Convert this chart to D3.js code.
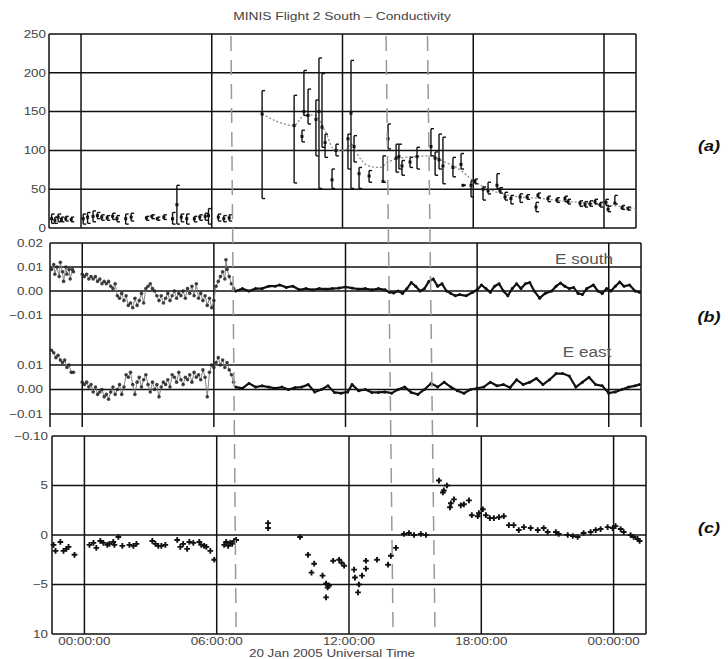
<!DOCTYPE html>
<html>
<head>
<meta charset="utf-8">
<script src="https://cdn.jsdelivr.net/npm/d3@7"></script>
<style>
  body { margin: 0; background: #fff; }
  text { font-family: "Liberation Sans", Arial, sans-serif; }
</style>
</head>
<body>
<svg width="728" height="659"></svg>
<script>
// hours since 00:00 UT, 20 Jan 2005
var timeTicks = [0, 6, 12, 18, 24];
var timeTickLabels = ["00:00:00", "06:00:00", "12:00:00", "18:00:00", "00:00:00"];
var eventTimes = [6.88, 14.0, 15.9];

// (a) conductivity: [t, value, low, high]
var condTicks = [0, 50, 100, 150, 200, 250];
var condPoints = [
  [-1.35,12,6,18],[-1.2,10,6,14],[-1.05,14,8,18],[-0.9,11,8,14],[-0.7,12,9,15],[-0.45,11,8,14],
  [0.1,12,5,18],[0.3,14,6,20],[0.55,15,8,22],[0.75,16,12,20],[0.95,14,10,17],[1.2,13,10,16],
  [1.45,15,11,19],[1.65,12,8,16],[2.05,12,5,18],[2.3,14,9,19],
  [3.0,13,10,15],[3.25,15,12,17],[3.5,12,10,14],[3.8,14,11,17],
  [4.2,12,5,20],[4.4,30,5,55],[4.6,14,8,18],[4.85,12,5,18],
  [5.2,12,8,15],[5.45,14,10,17],[5.7,15,10,19],[5.85,16,5,25],
  [6.3,14,9,18],[6.55,12,8,16],[6.8,13,9,17],
  [8.31,147,38,177],[9.78,132,58,171],[10.14,118,111,126],[10.23,150,145,203],
  [10.42,145,134,179],[10.78,140,93,165],[10.92,150,51,219],[11.06,130,104,199],
  [11.2,110,91,121],[11.52,62,51,76],[11.7,100,93,108],[12.25,115,76,121],
  [12.39,148,51,216],[12.53,105,85,119],[12.76,70,51,78],[13.22,67,59,74],
  [13.86,60,59,93],[14.09,115,102,134],[14.46,90,72,108],[14.59,92,76,108],
  [14.73,80,68,87],[15.1,85,78,91],[15.42,92,76,104],[16.06,105,93,128],
  [16.25,90,68,98],[16.43,88,76,121],[16.61,80,57,117],[17.07,78,66,91],
  [17.44,82,76,96],[17.53,55,55,55],[17.9,55,40,61],[18.08,60,57,63],
  [18.45,50,36,53],[18.68,48,44,59],[19.09,55,51,70],[19.23,48,45,52],
  [19.46,40,36,46],[19.73,38,31,42],[20.15,40,33,44],[20.47,40,37,43],
  [20.88,27,21,33],[20.97,42,39,45],[21.43,38,34,41],[21.84,36,33,39],
  [22.21,38,34,41],[22.35,34,31,37],[22.9,32,28,35],[23.13,30,27,34],
  [23.36,31,28,35],[23.59,34,31,37],[23.82,30,27,33],[24.09,33,29,37],
  [24.19,24,21,28],[24.5,32,31,42],[24.83,26,24,29],[25.1,25,23,27]
];
var condFit = [
  [8.31,147],[9.78,132],[10.05,140],[10.23,146],[10.74,145],[11.2,125],[11.66,100],
  [12.1,100],[12.4,108],[12.8,90],[13.2,80],[13.7,78],[14.1,85],[14.6,90],[15.3,92],
  [16.0,93],[16.7,85],[17.4,75],[17.95,62],[18.55,52],[19.2,45],[20.15,40],[21.1,38],
  [22.0,35],[22.9,33],[23.8,30],[24.7,28],[25.45,25]
];

// (b) electric field, E south and E east: [t, value]
var eSouthTicks = [-0.01, 0, 0.01, 0.02];
var eSouthTickLabels = ["\u22120.01", "0.00", "0.01", "0.02"];
var eEastTicks = [-0.01, 0, 0.01];
var eEastTickLabels = ["\u22120.01", "0.00", "0.01"];
var eSouthScatter = [
  [-1.4,0.009],[-1.3,0.011],[-1.25,0.007],[-1.15,0.010],[-1.05,0.006],[-1.0,0.012],[-0.9,0.008],
  [-0.85,0.004],[-0.75,0.010],[-0.7,0.007],[-0.6,0.009],[-0.55,0.005],[-0.45,0.009],[-0.4,0.008],
  [0.0,0.007],[0.1,0.006],[0.2,0.007],[0.3,0.005],[0.4,0.006],[0.5,0.005],[0.6,0.006],[0.7,0.004],
  [0.8,0.005],[0.9,0.003],[1.0,0.004],[1.1,0.003],[1.2,0.004],[1.3,0.002],[1.4,0.001],[1.5,0.003],
  [1.6,-0.002],[1.7,-0.003],[1.8,-0.001],[1.9,-0.004],[2.0,-0.002],[2.1,-0.006],[2.2,-0.005],
  [2.3,-0.007],[2.4,-0.003],[2.5,-0.006],[2.6,-0.004],[2.7,-0.001],[2.8,-0.005],[2.9,0.001],
  [3.0,0.002],[3.1,0.003],[3.2,0.001],[3.3,0.000],[3.4,-0.002],[3.5,-0.004],[3.6,-0.002],
  [3.7,-0.005],[3.8,-0.003],[3.9,-0.001],[4.0,-0.004],[4.1,-0.002],[4.2,0.000],[4.3,-0.003],
  [4.4,-0.001],[4.5,-0.002],[4.6,0.000],[4.7,-0.003],[4.8,0.001],[4.9,-0.001],[5.0,0.002],
  [5.1,-0.002],[5.2,0.003],[5.3,-0.003],[5.4,-0.001],[5.5,-0.004],[5.6,-0.002],[5.7,-0.006],
  [5.8,-0.003],[5.9,-0.007],[6.0,-0.004],[6.1,0.002],[6.2,0.004],[6.3,0.006],[6.4,0.008],
  [6.5,0.005],[6.55,0.013],[6.6,0.009],[6.7,0.006],[6.8,0.003],[6.9,0.001]
];
var eSouthTrace = [
  [7.0,0.000],[7.3,0.001],[7.6,0.000],[7.9,0.001],[8.2,0.001],[8.5,0.002],[8.8,0.002],[9.0,0.0025],
  [9.3,0.0015],[9.6,0.002],[9.9,0.0005],[10.2,0.001],[10.5,0.0005],[10.8,0.001],[11.1,0.0008],
  [11.4,0.001],[11.7,0.0012],[12.0,0.0017],[12.3,0.0012],[12.6,0.0008],[12.9,0.001],[13.2,0.0005],
  [13.5,0.001],[13.8,0.0005],[14.0,-0.0005],[14.2,-0.0008],[14.4,0.000],[14.6,-0.001],[14.8,0.001],
  [15.0,0.0035],[15.2,0.002],[15.4,0.000],[15.6,0.001],[15.8,0.004],[16.0,0.005],[16.2,0.002],
  [16.4,0.003],[16.6,0.000],[16.8,-0.001],[17.0,-0.002],[17.2,-0.0015],[17.5,-0.002],[17.8,-0.0005],
  [18.0,0.0005],[18.2,0.0025],[18.4,0.001],[18.6,-0.0005],[18.8,0.002],[19.0,0.003],[19.2,0.000],
  [19.4,-0.002],[19.6,0.001],[19.8,0.003],[20.0,0.001],[20.2,0.003],[20.4,0.0035],[20.6,0.000],
  [20.85,-0.003],[21.1,-0.001],[21.4,0.000],[21.6,0.002],[21.8,0.0033],[22.0,0.002],[22.2,0.001],
  [22.4,0.0015],[22.6,-0.001],[22.8,-0.0015],[23.0,0.001],[23.3,0.0025],[23.5,0.000],[23.7,-0.001],
  [23.9,0.001],[24.1,0.000],[24.3,0.002],[24.5,0.0037],[24.7,0.002],[24.95,0.0025],[25.2,0.000],
  [25.4,-0.0005]
];
var eEastScatter = [
  [-1.4,0.016],[-1.3,0.015],[-1.2,0.013],[-1.1,0.014],[-1.0,0.012],[-0.9,0.011],[-0.8,0.012],
  [-0.7,0.009],[-0.6,0.010],[-0.5,0.007],[-0.4,0.007],
  [0.0,0.003],[0.1,0.002],[0.2,0.003],[0.3,0.001],[0.4,0.002],[0.5,-0.001],[0.6,0.001],[0.7,-0.002],
  [0.8,-0.001],[0.9,0.000],[1.0,-0.003],[1.1,-0.002],[1.2,-0.004],[1.3,-0.001],[1.4,0.001],
  [1.5,-0.002],[1.6,0.000],[1.7,0.002],[1.8,-0.002],[1.9,0.001],[2.0,0.006],[2.1,0.005],[2.2,0.007],
  [2.3,0.002],[2.4,-0.002],[2.5,0.003],[2.6,0.005],[2.7,0.001],[2.8,0.004],[2.9,0.006],[3.0,0.002],
  [3.1,-0.001],[3.2,0.003],[3.3,0.000],[3.4,0.002],[3.5,-0.003],[3.6,0.001],[3.7,0.003],[3.8,0.002],
  [3.9,0.004],[4.0,0.001],[4.1,0.006],[4.2,0.005],[4.3,0.003],[4.4,0.007],[4.5,0.004],[4.6,0.002],
  [4.7,0.005],[4.8,0.004],[4.9,0.006],[5.0,0.003],[5.1,0.007],[5.2,0.005],[5.3,0.006],[5.4,0.004],
  [5.5,0.008],[5.6,0.005],[5.7,-0.003],[5.8,0.007],[5.9,0.010],[6.0,0.009],[6.1,0.011],[6.2,0.013],
  [6.3,0.010],[6.4,0.012],[6.5,0.009],[6.6,0.011],[6.7,0.008],[6.8,0.006],[6.9,0.003]
];
var eEastTrace = [
  [7.0,0.001],[7.3,0.0005],[7.6,0.0025],[7.9,0.001],[8.2,0.0015],[8.5,0.001],[8.8,0.0005],
  [9.1,0.001],[9.4,0.000],[9.7,0.0008],[10.0,0.001],[10.3,0.002],[10.6,-0.001],[10.9,0.000],
  [11.2,0.0015],[11.5,-0.0012],[11.8,-0.0015],[12.1,-0.001],[12.3,0.002],[12.6,-0.0005],[12.9,0.000],
  [13.2,-0.0012],[13.5,-0.0012],[13.8,-0.001],[14.1,-0.0015],[14.4,0.000],[14.7,0.001],[15.0,-0.0012],
  [15.3,-0.002],[15.6,0.000],[15.9,0.0025],[16.2,0.001],[16.5,0.003],[16.8,0.001],[17.1,-0.0005],
  [17.4,-0.0015],[17.7,0.000],[18.0,0.0005],[18.3,0.001],[18.6,0.003],[18.9,0.0015],[19.2,0.002],
  [19.5,0.0008],[19.8,0.004],[20.1,0.002],[20.4,0.003],[20.7,0.0045],[21.0,0.002],[21.3,0.004],
  [21.6,0.0065],[21.9,0.0065],[22.2,0.0055],[22.5,0.001],[22.8,0.003],[23.1,0.005],[23.4,0.002],
  [23.7,0.0015],[24.0,-0.0015],[24.3,-0.001],[24.6,0.000],[24.9,0.001],[25.2,0.0015],[25.4,0.002]
];

// (c) [t, value]
var cTicks = [10, 5, 0, -5, -10];
var cTickLabels = ["\u22120.10", "5", "0", "\u22125", "10"];
var cPoints = [
  [-1.4,-1.0],[-1.31,-1.6],[-1.09,-0.7],[-0.95,-1.6],[-0.82,-1.4],[-0.72,-1.2],[-0.45,-2.0],
  [0.23,-1.0],[0.41,-0.8],[0.54,-1.3],[0.72,-0.6],[0.86,-0.8],[1.04,-1.0],[1.13,-0.9],[1.31,-0.7],
  [1.36,-1.0],[1.54,-0.2],[1.72,-1.1],[2.04,-1.0],[2.22,-1.1],[2.36,-0.9],
  [3.08,-0.6],[3.22,-0.9],[3.35,-1.1],[3.49,-1.1],[3.67,-1.0],
  [4.21,-0.5],[4.35,-1.2],[4.48,-0.9],[4.66,-1.4],[4.76,-0.7],[4.94,-0.8],
  [5.21,-0.7],[5.3,-1.0],[5.43,-1.1],[5.53,-1.2],[5.71,-1.6],[5.89,-2.5],
  [6.34,-1.0],[6.43,-0.7],[6.52,-1.1],[6.61,-0.8],[6.7,-0.9],[6.79,-0.6],[6.88,-0.5],
  [8.33,1.2],[8.33,0.7],[9.78,-0.2],[10.14,-2.0],[10.3,-3.8],[10.42,-2.9],[10.8,-4.1],
  [10.96,-4.9],[11.03,-5.3],[10.96,-6.3],[11.1,-5.1],[11.28,-2.6],[11.55,-2.5],[11.66,-2.8],
  [11.78,-3.1],[12.23,-3.5],[12.27,-4.3],[12.41,-5.8],[12.45,-5.0],[12.59,-4.1],[12.77,-3.4],
  [12.77,-2.6],[13.27,-2.5],[13.77,-3.0],[13.9,-2.1],[14.13,-1.3],[14.49,0.1],[14.72,0.2],
  [14.95,0.0],[15.26,0.1],[15.49,0.0],
  [16.08,5.5],[16.26,4.3],[16.3,4.5],[16.44,5.0],[16.58,2.8],[16.62,3.2],[16.76,3.6],[17.07,3.0],
  [17.21,3.1],[17.44,3.5],[17.57,2.0],[17.84,1.9],[17.89,2.2],[18.07,2.6],[18.21,2.0],[18.39,1.7],
  [18.57,1.7],[18.8,1.8],[19.02,1.9],[19.25,1.0],[19.47,1.0],[19.7,0.5],[19.93,0.8],[20.24,0.7],
  [20.56,0.5],[20.83,0.7],[21.01,0.3],[21.38,0.3],[21.51,0.1],[21.92,0.0],[22.15,-0.1],[22.37,-0.2],
  [22.64,0.2],[22.96,0.3],[23.19,0.5],[23.41,0.6],[23.73,0.8],[23.96,0.7],[24.09,0.9],[24.32,0.6],
  [24.46,0.3],[24.77,0.0],[24.91,-0.2],[25.09,-0.4],[25.18,-0.6]
];

var svg = d3.select("svg");
var gridColor = "#111", labelColor = "#444";
var tDomain = [-1.47, 25.47];

// each panel of the scan sits slightly skewed, so each has its own x range
var xA = d3.scaleLinear().domain(tDomain).range([49, 636]);
var xB = d3.scaleLinear().domain(tDomain).range([50, 641]);
var xC = d3.scaleLinear().domain(tDomain).range([52, 646]);

var yA = d3.scaleLinear().domain([0, 250]).range([228, 34]);
var yS = d3.scaleLinear().domain([-0.01, 0.02]).range([315, 243]);
var yE = d3.scaleLinear().domain([-0.01, 0.01]).range([414, 365]);
var yC = d3.scaleLinear().domain([-10, 10]).range([634, 436]);

function stretchText(g, x, y, str, size, anchor, fill) {
    return g.append("text")
        .attr("transform", "translate(" + x + "," + y + ") scale(1.22,1)")
        .attr("text-anchor", anchor)
        .attr("dy", "0.35em")
        .attr("font-size", size)
        .attr("fill", fill)
        .text(str);
}

function hLines(g, x, y, vals) {
    g.selectAll(null).data(vals).enter().append("line")
        .attr("x1", x.range()[0]).attr("x2", x.range()[1])
        .attr("y1", function(d) { return y(d); })
        .attr("y2", function(d) { return y(d); })
        .attr("stroke", gridColor).attr("stroke-width", 1.5);
}

function vLines(g, x, vals, top, bottom) {
    g.selectAll(null).data(vals).enter().append("line")
        .attr("x1", function(d) { return x(d); })
        .attr("x2", function(d) { return x(d); })
        .attr("y1", top).attr("y2", bottom)
        .attr("stroke", gridColor).attr("stroke-width", 1.5);
}

// ---- (a) conductivity
var gA = svg.append("g");
hLines(gA, xA, yA, condTicks);
vLines(gA, xA, tDomain.concat(timeTicks), yA(250), yA(0));
condTicks.forEach(function(d) {
    stretchText(gA, 46, yA(d), d, 11, "end", labelColor);
});

gA.append("path")
    .datum(condFit)
    .attr("fill", "none").attr("stroke", "#8a8a8a")
    .attr("stroke-width", 1.3).attr("stroke-dasharray", "2,2")
    .attr("d", d3.line().curve(d3.curveMonotoneX)
        .x(function(d) { return xA(d[0]); })
        .y(function(d) { return yA(d[1]); }));

var bars = gA.selectAll(".bar").data(condPoints).enter().append("g").attr("class", "bar");
bars.append("line")
    .attr("x1", function(d) { return xA(d[0]); }).attr("x2", function(d) { return xA(d[0]); })
    .attr("y1", function(d) { return yA(d[2]); }).attr("y2", function(d) { return yA(d[3]); })
    .attr("stroke", "#111").attr("stroke-width", 1.4);
[2, 3].forEach(function(k) {
    bars.append("line")
        .attr("x1", function(d) { return xA(d[0]); }).attr("x2", function(d) { return xA(d[0]) + 3; })
        .attr("y1", function(d) { return yA(d[k]); }).attr("y2", function(d) { return yA(d[k]); })
        .attr("stroke", "#111").attr("stroke-width", 1.4);
});
bars.append("rect")
    .attr("x", function(d) { return xA(d[0]) - 1.5; })
    .attr("y", function(d) { return yA(d[1]) - 1.5; })
    .attr("width", 3).attr("height", 3).attr("fill", "#111");

svg.append("text")
    .attr("transform", "translate(342,20) scale(1.2,1)")
    .attr("text-anchor", "middle").attr("font-size", 11.5).attr("fill", "#444")
    .text("MINIS Flight 2 South \u2013 Conductivity");

// ---- (b) electric field
var gB = svg.append("g");
hLines(gB, xB, yS, eSouthTicks);
hLines(gB, xB, yE, eEastTicks);
vLines(gB, xB, tDomain.concat(timeTicks), 243, 427);
eSouthTicks.forEach(function(d, i) {
    stretchText(gB, 43, yS(d), eSouthTickLabels[i], 11, "end", labelColor);
});
eEastTicks.forEach(function(d, i) {
    stretchText(gB, 43, yE(d), eEastTickLabels[i], 11, "end", labelColor);
});

function drawField(scatter, trace, y) {
    var line = d3.line()
        .x(function(d) { return xB(d[0]); })
        .y(function(d) { return y(d[1]); });
    // noisy early part: thin grey zig-zag plus dots gives the dense cloud look
    gB.append("path").datum(scatter.filter(function(d) { return d[0] < -0.3; }))
        .attr("fill", "none").attr("stroke", "#777").attr("stroke-width", 0.9).attr("d", line);
    gB.append("path").datum(scatter.filter(function(d) { return d[0] >= -0.3; }))
        .attr("fill", "none").attr("stroke", "#777").attr("stroke-width", 0.9).attr("d", line);
    gB.selectAll(null).data(scatter).enter().append("circle")
        .attr("cx", function(d) { return xB(d[0]); })
        .attr("cy", function(d) { return y(d[1]); })
        .attr("r", 1.8).attr("fill", "#222").attr("fill-opacity", 0.85);
    gB.append("path").datum(trace)
        .attr("fill", "none").attr("stroke", "#111").attr("stroke-width", 2.2)
        .attr("d", line);
    gB.selectAll(null).data(trace).enter().append("circle")
        .attr("cx", function(d) { return xB(d[0]); })
        .attr("cy", function(d) { return y(d[1]); })
        .attr("r", 1.5).attr("fill", "#111");
}
drawField(eSouthScatter, eSouthTrace, yS);
drawField(eEastScatter, eEastTrace, yE);

stretchText(gB, 584, 259, "E south", 14, "middle", "#555");
stretchText(gB, 587, 352, "E east", 14, "middle", "#555");

// ---- (c)
var gC = svg.append("g");
hLines(gC, xC, yC, cTicks);
vLines(gC, xC, tDomain.concat(timeTicks), yC(10), yC(-10));
cTicks.forEach(function(d, i) {
    stretchText(gC, 48, yC(d), cTickLabels[i], 11, "end", labelColor);
});
gC.selectAll(null).data(cPoints).enter().append("path")
    .attr("transform", function(d) { return "translate(" + xC(d[0]) + "," + yC(d[1]) + ")"; })
    .attr("d", d3.symbol().type(d3.symbolCross).size(18))
    .attr("fill", "#111");

timeTicks.forEach(function(d, i) {
    stretchText(gC, xC(d), 641, timeTickLabels[i], 11, "middle", labelColor);
});
stretchText(gC, 332, 653.5, "20 Jan 2005 Universal Time", 11, "middle", labelColor);

// event markers: dashed lines run straight through all three panels
svg.selectAll(".event").data(eventTimes).enter().append("line")
    .attr("class", "event")
    .attr("x1", function(d) { return xA(d); }).attr("y1", 36)
    .attr("x2", function(d) { return xC(d); }).attr("y2", 633)
    .attr("stroke", "#999").attr("stroke-width", 1.5)
    .attr("stroke-dasharray", "15,9");

// panel letters
[["(a)", 146], ["(b)", 317], ["(c)", 528]].forEach(function(p) {
    svg.append("text")
        .attr("transform", "translate(709," + p[1] + ") scale(1.2,1)")
        .attr("text-anchor", "middle").attr("dy", "0.35em")
        .attr("font-size", 15).attr("font-weight", "bold").attr("font-style", "italic")
        .attr("fill", "#111")
        .text(p[0]);
});
</script>
</body>
</html>
